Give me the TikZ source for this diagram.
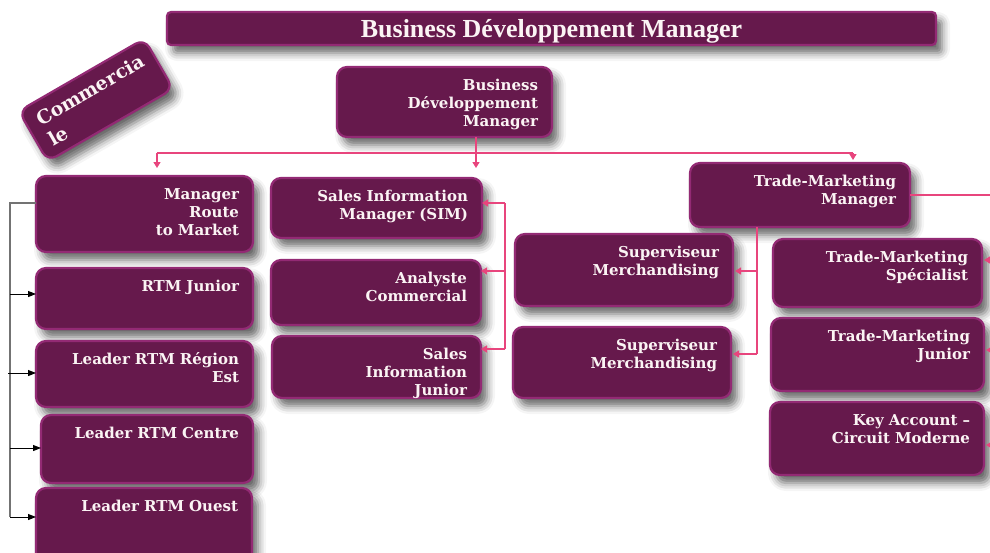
\documentclass[tikz,border=0pt]{standalone}
\usepackage{fontspec}
\setmainfont{DejaVu Serif}
\newfontfamily\titlefont{Liberation Serif}
\usetikzlibrary{arrows.meta,shadows.blur}

\definecolor{plum}{HTML}{66194C}
\definecolor{plumedge}{HTML}{932A74}
\definecolor{linkpink}{HTML}{E8457D}
\definecolor{labelwhite}{HTML}{FBF4F4}

\tikzset{
  plumbox/.style={fill=plum, draw=plumedge, line width=2.2pt, rounded corners=10pt, outer sep=0pt,
    blur shadow={shadow xshift=6pt, shadow yshift=-8pt, shadow blur radius=8pt, shadow opacity=60},
    text=labelwhite, font=\bfseries\fontsize{15}{18}\selectfont},
  orgbox/.style={plumbox, align=right, inner xsep=14pt, inner ysep=0pt, text height=23pt, anchor=north west},
  link/.style={draw=linkpink, line width=1.3pt},
  linkarrow/.style={link, -{Triangle[width=7pt,length=6pt]}},
  feed/.style={draw=black!55, line width=1.2pt},
  feedarrow/.style={draw=black, line width=1pt, -{Triangle[width=6pt,length=8pt]}},
}

% box from its top-left to bottom-right corner, text set flush right from the top
\newcommand\orgnode[6]{%
  \pgfmathsetmacro\orgw{#4-#2-28}%
  \pgfmathsetmacro\orgd{#5-#3-23}%
  \node[orgbox, text width=\orgw pt, text depth=\orgd pt] (#1) at (#2,#3) {#6};
}

\begin{document}
\begin{tikzpicture}[x=1pt,y=-1pt]
\useasboundingbox (0,0) rectangle (990,552);
\clip (0,0) rectangle (990,552);

% banner and side tag
\node[plumbox, rounded corners=4pt, minimum width=769pt, minimum height=33pt, inner sep=0pt,
      text height=18.5pt, text depth=1.5pt,
      font=\titlefont\bfseries\fontsize{26}{30}\selectfont] (title) at (551.5,28.5)
      {Business Développement Manager};
\node[plumbox, rotate=30, minimum width=145pt, minimum height=58pt, inner sep=0pt, align=left,
      font=\bfseries\fontsize{19}{24}\selectfont] (commerciale) at (96,100) {Commercia\\le};

% positions
\orgnode{bdm}{337}{67}{552}{137}{Business\\Développement\\Manager}
\orgnode{rtmmgr}{36}{176}{253}{252}{Manager\\Route\\to Market}
\orgnode{sim}{271}{178}{482}{238}{Sales Information\\Manager (SIM)}
\orgnode{tmm}{690}{163}{910}{227}{Trade-Marketing\\Manager}
\orgnode{rtmjr}{36}{268}{253}{329}{RTM Junior}
\orgnode{leadest}{36}{341}{253}{407}{Leader RTM Région\\Est}
\orgnode{leadcentre}{41}{415}{253}{483}{Leader RTM Centre}
\orgnode{leadouest}{36}{488}{252}{565}{Leader RTM Ouest}
\orgnode{analyste}{271}{260}{481}{325}{Analyste\\Commercial}
\orgnode{sij}{272}{336}{481}{398}{Sales\\Information\\Junior}
\orgnode{supA}{515}{234}{733}{306}{Superviseur\\Merchandising}
\orgnode{supB}{513}{327}{731}{398}{Superviseur\\Merchandising}
\orgnode{tmspec}{773}{239}{982}{307}{Trade-Marketing\\Spécialist}
\orgnode{tmjr}{771}{318}{984}{391}{Trade-Marketing\\Junior}
\orgnode{keyacc}{770}{402}{984}{475}{Key Account –\\Circuit Moderne}

% top level distribution
\coordinate (hubL) at (157,153);
\coordinate (hubM) at (476,153);
\coordinate (hubR) at (853,153);
\draw[link] (hubL) -- (hubR);
\draw[linkarrow, shorten >=8pt] (hubL) -- (hubL |- rtmmgr.north);
\draw[linkarrow, shorten >=10pt] (bdm.south -| hubM) -- (hubM |- sim.north);
\draw[linkarrow, shorten >=3pt] (hubR) -- (hubR |- tmm.north);

% sales information team
\coordinate (simbarA) at (505,203);
\coordinate (simbarB) at (505,271);
\coordinate (simbarC) at (505,349);
\draw[link] (simbarA) -- (simbarC);
\draw[linkarrow] (simbarA) -- (simbarA -| sim.east);
\draw[linkarrow] (simbarB) -- (simbarB -| analyste.east);
\draw[linkarrow] (simbarC) -- (simbarC -| sij.east);

% merchandising supervisors
\coordinate (tmbarA) at (757,271);
\coordinate (tmbarB) at (757,354);
\draw[link] (tmm.south -| tmbarA) -- (tmbarB);
\draw[linkarrow, shorten >=2pt] (tmbarA) -- (tmbarA -| supA.east);
\draw[linkarrow, shorten >=2pt] (tmbarB) -- (tmbarB -| supB.east);

% trade-marketing team
\coordinate (tmout) at (1000,194);
\coordinate (rbarA) at (1000,260);
\coordinate (rbarB) at (1000,350);
\coordinate (rbarC) at (1000,445);
\draw[link] (tmm.east) -- (tmm.east -| tmout) -- (rbarC);
\draw[linkarrow, shorten >=2pt] (rbarA) -- (rbarA -| tmspec.east);
\draw[linkarrow, shorten >=2pt] (rbarB) -- (rbarB -| tmjr.east);
\draw[linkarrow, shorten >=2pt] (rbarC) -- (rbarC -| keyacc.east);

% route to market team
\coordinate (lbarT) at (10,203);
\coordinate (lbarB) at (10,517);
\coordinate (lA) at (10,294);
\coordinate (lB) at (8,373);
\coordinate (lC) at (10,448);
\draw[feed] (rtmmgr.west |- lbarT) -- (lbarT) -- (lbarB);
\draw[feedarrow] (lA) -- (lA -| rtmjr.west);
\draw[feedarrow] (lB) -- (lB -| leadest.west);
\draw[feedarrow] (lC) -- (lC -| leadcentre.west);
\draw[feedarrow] (lbarB) -- (lbarB -| leadouest.west);
\end{tikzpicture}
\end{document}
